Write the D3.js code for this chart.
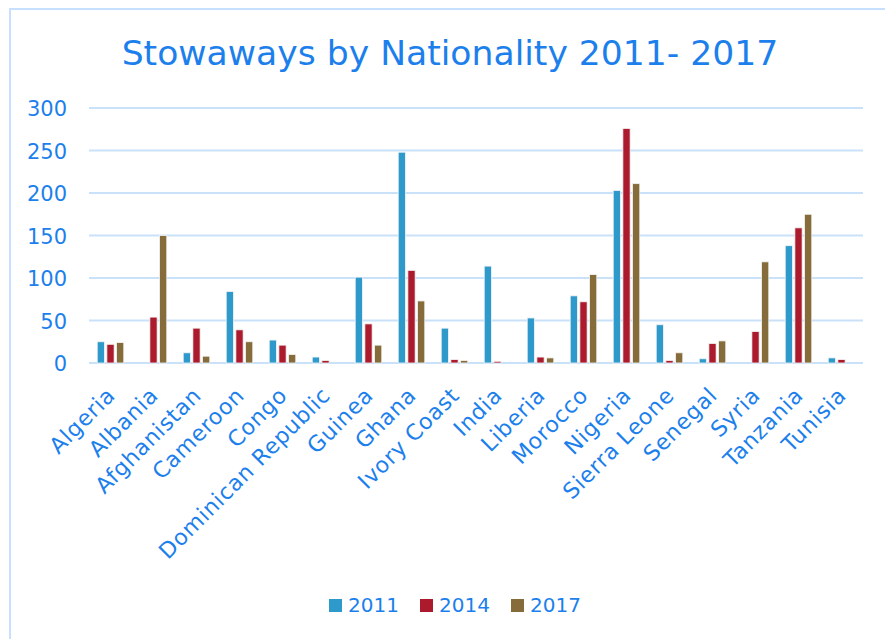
<!DOCTYPE html>
<html>
<head>
<meta charset="utf-8">
<script src="https://cdn.jsdelivr.net/npm/d3@7"></script>
<style>
  body { margin: 0; background: #fff; }
  svg text { font-family: "Century Gothic", "DejaVu Sans", sans-serif; fill: #1c7fec; }
</style>
</head>
<body>
<div id="chart"></div>
<script>
// countries on the x axis
var countries = ["Algeria", "Albania", "Afghanistan", "Cameroon", "Congo", "Dominican Republic",
  "Guinea", "Ghana", "Ivory Coast", "India", "Liberia", "Morocco", "Nigeria", "Sierra Leone",
  "Senegal", "Syria", "Tanzania", "Tunisia"];
var years = ["2011", "2014", "2017"];
var v2011 = [25, 0, 12, 84, 27, 7, 101, 248, 41, 114, 53, 79, 203, 45, 5, 0, 138, 6];
var v2014 = [22, 54, 41, 39, 21, 3, 46, 109, 4, 2, 7, 72, 276, 3, 23, 37, 159, 4];
var v2017 = [24, 150, 8, 25, 10, 0, 21, 73, 3, 0, 6, 104, 211, 12, 26, 119, 175, 0];
var yTicks = [0, 50, 100, 150, 200, 250, 300];
var colors = ["#2e9acb", "#ab1a2d", "#866c3b"];

var width = 885, height = 639;
var margin = { left: 89, right: 22, top: 108, bottom: 276 };

var svg = d3.select("#chart").append("svg")
  .attr("width", width)
  .attr("height", height);

// outer frame (runs off the right and bottom of the picture)
svg.append("rect")
  .attr("x", 10).attr("y", 9)
  .attr("width", 900).attr("height", 700)
  .attr("fill", "none")
  .attr("stroke", "#c6e0fe")
  .attr("stroke-width", 2);

// build rows from the arrays
var rows = countries.map(function (c, i) {
  return { country: c, values: [v2011[i], v2014[i], v2017[i]] };
});

var x0 = d3.scaleBand()
  .domain(countries)
  .range([margin.left, width - margin.right])
  .paddingInner(0.27)
  .paddingOuter(0.135);

var x1 = d3.scaleBand()
  .domain(years)
  .range([0, x0.bandwidth()])
  .padding(0.25);

var y = d3.scaleLinear()
  .domain([0, 300])
  .range([height - margin.bottom, margin.top]);

//Gridlines
svg.append("g")
  .selectAll("line")
  .data(yTicks)
  .join("line")
  .attr("x1", margin.left)
  .attr("x2", width - margin.right)
  .attr("y1", d => y(d))
  .attr("y2", d => y(d))
  .attr("stroke", "#c9e1f9")
  .attr("stroke-width", 2);

//Y axis labels
var yAxis = d3.axisLeft(y).tickValues(yTicks).tickSize(0).tickPadding(0);
var yg = svg.append("g")
  .attr("transform", "translate(67,0)")
  .call(yAxis);
yg.select(".domain").remove();
yg.selectAll("text")
  .attr("font-size", 21)
  .attr("dy", "0.36em")
  .style("font-family", null);

//Bars
var groups = svg.append("g")
  .selectAll("g")
  .data(rows)
  .join("g")
  .attr("transform", d => "translate(" + x0(d.country) + ",0)");

groups.selectAll("rect")
  .data(d => d.values.map((v, i) => ({ year: years[i], value: v, i: i })))
  .join("rect")
  .attr("x", d => x1(d.year))
  .attr("width", x1.bandwidth())
  .attr("y", d => y(d.value))
  .attr("height", d => y(0) - y(d.value))
  .attr("fill", d => colors[d.i])
  .attr("stroke", d => d.value > 0 ? "#f4f4f4" : "none")
  .attr("stroke-width", 0.8);

//X axis labels, rotated
var xAxis = d3.axisBottom(x0).tickSize(0).tickPadding(0);
var xg = svg.append("g")
  .attr("transform", "translate(0," + (y(0) + 10) + ")")
  .call(xAxis);
xg.select(".domain").remove();
xg.selectAll("text")
  .attr("font-size", 22)
  .attr("letter-spacing", "0.7px")
  .attr("text-anchor", "end")
  .attr("dy", "0.7em")
  .attr("dx", "0.2em")
  .attr("y", 0)
  .attr("transform", "translate(-8,16) rotate(-45)");

//Title
svg.append("text")
  .attr("x", 450)
  .attr("y", 65)
  .attr("text-anchor", "middle")
  .attr("font-size", 34.6)
  .text("Stowaways by Nationality 2011- 2017");

//Legend
var legendX = [329, 420, 511];
var legend = svg.append("g")
  .selectAll("g")
  .data(years)
  .join("g")
  .attr("transform", (d, i) => "translate(" + legendX[i] + ",599)");
legend.append("rect")
  .attr("width", 13).attr("height", 13)
  .attr("fill", (d, i) => colors[i]);
legend.append("text")
  .attr("x", 19)
  .attr("y", 13)
  .attr("font-size", 20)
  .text(d => d);
</script>
</body>
</html>
